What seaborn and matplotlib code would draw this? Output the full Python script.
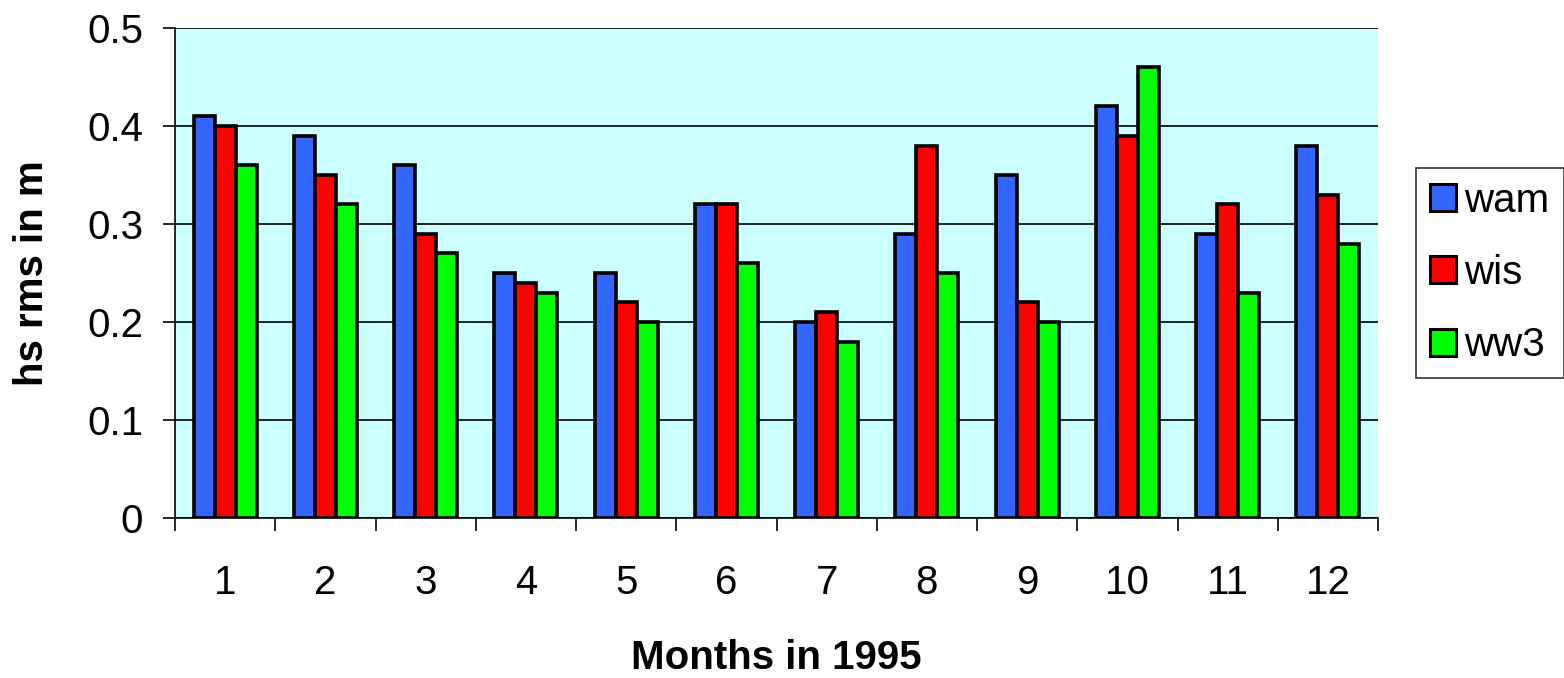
import matplotlib
matplotlib.use("Agg")
import matplotlib.pyplot as plt
import numpy as np
import pandas as pd
import seaborn as sns

# -------------------------------
# DATA
# -------------------------------
months = ["1", "2", "3", "4", "5", "6", "7", "8", "9", "10", "11", "12"]
wam = [0.41, 0.39, 0.36, 0.25, 0.25, 0.32, 0.20, 0.29, 0.35, 0.42, 0.29, 0.38]
wis = [0.40, 0.35, 0.29, 0.24, 0.22, 0.32, 0.21, 0.38, 0.22, 0.39, 0.32, 0.33]
ww3 = [0.36, 0.32, 0.27, 0.23, 0.20, 0.26, 0.18, 0.25, 0.20, 0.46, 0.23, 0.28]
models = ["wam", "wis", "ww3"]
colors = ["#3366FF", "#FF0000", "#00FF00"]

df = pd.DataFrame({"month": months, "wam": wam, "wis": wis, "ww3": ww3})
df = df.melt(id_vars="month", var_name="model", value_name="rms")

# -------------------------------
# PLOT
# -------------------------------
sns.set_style("white")
plt.rcParams["font.family"] = ["Liberation Sans", "DejaVu Sans"]
plt.rcParams["text.color"] = "black"
plt.rcParams["axes.labelcolor"] = "black"
plt.rcParams["xtick.color"] = "black"
plt.rcParams["ytick.color"] = "black"

fig = plt.figure(figsize=(15.64, 6.78), dpi=100)
ax = fig.add_axes([175 / 1564, 1 - 518 / 678, (1378 - 175) / 1564, (518 - 28) / 678])
ax.set_facecolor("#CCFFFF")

sns.barplot(data=df, x="month", y="rms", hue="model", hue_order=models,
            order=months, palette=colors, width=0.63, edgecolor="black",
            linewidth=2.6, saturation=1, ax=ax, zorder=3)

ax.set_ylim(0, 0.5)
ax.set_xlim(-0.5, len(months) - 0.5)
ax.set_yticks(np.arange(0, 0.51, 0.1))
ax.set_yticklabels(["0", "0.1", "0.2", "0.3", "0.4", "0.5"])
ax.yaxis.grid(True, color="black", linewidth=1.2, zorder=0)
ax.set_axisbelow(True)

# group boundary ticks on the x axis
ax.set_xticks(np.arange(-0.5, len(months), 1.0), minor=True)
ax.tick_params(axis="x", which="major", length=0, pad=33, labelsize=29)
ax.tick_params(axis="x", which="minor", length=9, width=1.2, color="black",
               direction="out", bottom=True)
ax.tick_params(axis="y", length=9, width=1.2, color="black", direction="out",
               left=True, pad=14, labelsize=29)

for side in ["top", "right"]:
    ax.spines[side].set_visible(False)
for side in ["left", "bottom"]:
    ax.spines[side].set_color("black")
    ax.spines[side].set_linewidth(1.2)

ax.set_xlabel("Months in 1995", fontsize=29, fontweight="bold", labelpad=27)
ax.set_ylabel("hs rms in m", fontsize=29, fontweight="bold", labelpad=26)

leg = ax.legend(loc="center left", bbox_to_anchor=(1.0316, 0.5), fontsize=29,
                frameon=True, fancybox=False, edgecolor="black",
                handlelength=0.65, handleheight=0.65, handletextpad=0.2,
                labelspacing=0.85, borderpad=0.35, borderaxespad=0)
leg.get_frame().set_linewidth(1.2)
for h in leg.legend_handles:
    h.set_edgecolor("black")
    h.set_linewidth(2.2)

fig.savefig("out.png", dpi=100)
